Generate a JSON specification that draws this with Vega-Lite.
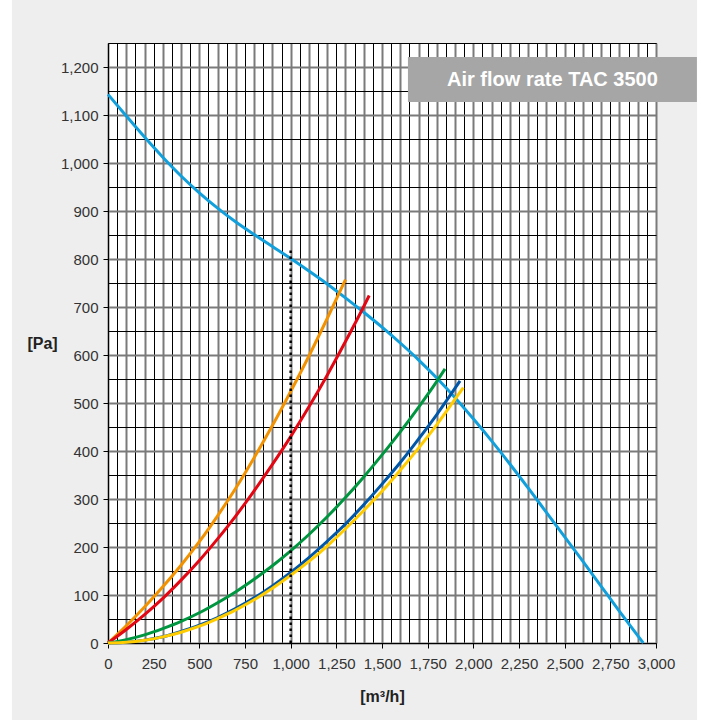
{
  "$schema": "https://vega.github.io/schema/vega-lite/v6.json",
  "width": 548,
  "height": 600,
  "autosize": {"type": "none"},
  "padding": {"left": 108, "top": 43, "right": 45, "bottom": 77},
  "background": "#eeeeee",
  "view": {"stroke": "#000000", "strokeWidth": 1, "fill": "#ffffff"},
  "config": {
    "font": "Liberation Sans, Arial, sans-serif",
    "axisX": {
      "tickCount": 60,
      "grid": true,
      "gridColor": {"condition": {"test": "datum.value % 100 === 0", "value": "#7a7a7a"}, "value": "#000000"},
      "gridWidth": {"condition": {"test": "datum.value % 100 === 0", "value": 2}, "value": 1},
      "gridOpacity": 1,
      "labelExpr": "datum.value % 250 === 0 ? format(datum.value, ',') : ''",
      "labelFont": "Liberation Sans, Arial, sans-serif",
      "labelFontSize": 15,
      "labelColor": "#333333",
      "labelPadding": 8,
      "labelOverlap": false,
      "labelFlush": false,
      "tickSize": 5,
      "tickColor": {"condition": {"test": "datum.value % 250 === 0", "value": "#000000"}, "value": "transparent"},
      "domainColor": "#000000",
      "titleFont": "Liberation Sans, Arial, sans-serif",
      "titleFontSize": 16,
      "titleFontWeight": "bold",
      "titleColor": "#222222",
      "titleX": 274,
      "titleY": 53,
      "titleBaseline": "middle",
      "titleAlign": "center"
    },
    "axisY": {
      "tickCount": 25,
      "grid": true,
      "gridColor": {"condition": {"test": "datum.value % 100 === 0", "value": "#7a7a7a"}, "value": "#000000"},
      "gridWidth": {"condition": {"test": "datum.value % 100 === 0", "value": 2}, "value": 1},
      "gridOpacity": 1,
      "labelExpr": "datum.value % 100 === 0 ? format(datum.value, ',') : ''",
      "labelFont": "Liberation Sans, Arial, sans-serif",
      "labelFontSize": 15,
      "labelColor": "#333333",
      "labelPadding": 5,
      "labelOverlap": false,
      "labelFlush": false,
      "tickSize": 5,
      "tickColor": {"condition": {"test": "datum.value % 100 === 0", "value": "#000000"}, "value": "transparent"},
      "domainColor": "#000000",
      "titleFont": "Liberation Sans, Arial, sans-serif",
      "titleFontSize": 16,
      "titleFontWeight": "bold",
      "titleColor": "#222222",
      "titleAngle": 0,
      "titleX": -66,
      "titleY": 300,
      "titleBaseline": "middle",
      "titleAlign": "center"
    }
  },
  "datasets": {
    "fan": [
      {"x": 0, "y": 1143}, {"x": 100, "y": 1098}, {"x": 200, "y": 1054}, {"x": 300, "y": 1012},
      {"x": 400, "y": 973}, {"x": 500, "y": 938}, {"x": 600, "y": 906}, {"x": 700, "y": 877},
      {"x": 800, "y": 851}, {"x": 900, "y": 826}, {"x": 1000, "y": 801}, {"x": 1100, "y": 775},
      {"x": 1200, "y": 748}, {"x": 1300, "y": 719}, {"x": 1400, "y": 689}, {"x": 1500, "y": 658},
      {"x": 1600, "y": 625}, {"x": 1700, "y": 590}, {"x": 1800, "y": 552}, {"x": 1900, "y": 511},
      {"x": 2000, "y": 467}, {"x": 2100, "y": 421}, {"x": 2200, "y": 373}, {"x": 2300, "y": 323},
      {"x": 2400, "y": 272}, {"x": 2500, "y": 221}, {"x": 2600, "y": 170}, {"x": 2700, "y": 118},
      {"x": 2800, "y": 66}, {"x": 2930, "y": 0}
    ],
    "curves": [
      {"s": "orange", "x": 0, "y": 0}, {"s": "orange", "x": 100, "y": 36}, {"s": "orange", "x": 200, "y": 75},
      {"s": "orange", "x": 300, "y": 117}, {"s": "orange", "x": 400, "y": 162}, {"s": "orange", "x": 500, "y": 211},
      {"s": "orange", "x": 600, "y": 265}, {"s": "orange", "x": 700, "y": 323}, {"s": "orange", "x": 800, "y": 386},
      {"s": "orange", "x": 900, "y": 453}, {"s": "orange", "x": 1000, "y": 524}, {"s": "orange", "x": 1100, "y": 598},
      {"s": "orange", "x": 1200, "y": 676}, {"s": "orange", "x": 1300, "y": 757},
      {"s": "red", "x": 0, "y": 0}, {"s": "red", "x": 100, "y": 28}, {"s": "red", "x": 200, "y": 59},
      {"s": "red", "x": 300, "y": 93}, {"s": "red", "x": 400, "y": 131}, {"s": "red", "x": 500, "y": 172},
      {"s": "red", "x": 600, "y": 217}, {"s": "red", "x": 700, "y": 265}, {"s": "red", "x": 800, "y": 317},
      {"s": "red", "x": 900, "y": 372}, {"s": "red", "x": 1000, "y": 430}, {"s": "red", "x": 1100, "y": 492},
      {"s": "red", "x": 1200, "y": 558}, {"s": "red", "x": 1300, "y": 628}, {"s": "red", "x": 1400, "y": 701},
      {"s": "red", "x": 1430, "y": 724},
      {"s": "green", "x": 0, "y": 0}, {"s": "green", "x": 100, "y": 7}, {"s": "green", "x": 200, "y": 17},
      {"s": "green", "x": 300, "y": 30}, {"s": "green", "x": 400, "y": 45}, {"s": "green", "x": 500, "y": 63},
      {"s": "green", "x": 600, "y": 84}, {"s": "green", "x": 700, "y": 107}, {"s": "green", "x": 800, "y": 133},
      {"s": "green", "x": 900, "y": 161}, {"s": "green", "x": 1000, "y": 192}, {"s": "green", "x": 1100, "y": 226},
      {"s": "green", "x": 1200, "y": 263}, {"s": "green", "x": 1300, "y": 303}, {"s": "green", "x": 1400, "y": 346},
      {"s": "green", "x": 1500, "y": 392}, {"s": "green", "x": 1600, "y": 440}, {"s": "green", "x": 1700, "y": 491},
      {"s": "green", "x": 1800, "y": 545}, {"s": "green", "x": 1845, "y": 571},
      {"s": "blue", "x": 0, "y": 0}, {"s": "blue", "x": 100, "y": 1.5}, {"s": "blue", "x": 200, "y": 6},
      {"s": "blue", "x": 300, "y": 13}, {"s": "blue", "x": 400, "y": 24}, {"s": "blue", "x": 500, "y": 37},
      {"s": "blue", "x": 600, "y": 53}, {"s": "blue", "x": 700, "y": 72}, {"s": "blue", "x": 800, "y": 94},
      {"s": "blue", "x": 900, "y": 119}, {"s": "blue", "x": 1000, "y": 147}, {"s": "blue", "x": 1100, "y": 178},
      {"s": "blue", "x": 1200, "y": 212}, {"s": "blue", "x": 1300, "y": 248}, {"s": "blue", "x": 1400, "y": 288},
      {"s": "blue", "x": 1500, "y": 331}, {"s": "blue", "x": 1600, "y": 376}, {"s": "blue", "x": 1700, "y": 425},
      {"s": "blue", "x": 1800, "y": 476}, {"s": "blue", "x": 1927, "y": 546},
      {"s": "yellow", "x": 0, "y": 0}, {"s": "yellow", "x": 100, "y": 1.4}, {"s": "yellow", "x": 200, "y": 5.6},
      {"s": "yellow", "x": 300, "y": 12.7}, {"s": "yellow", "x": 400, "y": 22.5}, {"s": "yellow", "x": 500, "y": 35},
      {"s": "yellow", "x": 600, "y": 51}, {"s": "yellow", "x": 700, "y": 69}, {"s": "yellow", "x": 800, "y": 90},
      {"s": "yellow", "x": 900, "y": 114}, {"s": "yellow", "x": 1000, "y": 141}, {"s": "yellow", "x": 1100, "y": 170},
      {"s": "yellow", "x": 1200, "y": 202}, {"s": "yellow", "x": 1300, "y": 238}, {"s": "yellow", "x": 1400, "y": 276},
      {"s": "yellow", "x": 1500, "y": 316}, {"s": "yellow", "x": 1600, "y": 360}, {"s": "yellow", "x": 1700, "y": 406},
      {"s": "yellow", "x": 1800, "y": 455}, {"s": "yellow", "x": 1900, "y": 508}, {"s": "yellow", "x": 1945, "y": 532}
    ]
  },
  "layer": [
    {
      "data": {"name": "fan"},
      "mark": {"type": "line", "color": "#12a0dc", "strokeWidth": 3, "interpolate": "monotone"},
      "encoding": {
        "x": {
          "field": "x", "type": "quantitative",
          "scale": {"domain": [0, 3000], "nice": false, "zero": false},
          "axis": {"title": "[m³/h]", "tickCount": 60}
        },
        "y": {
          "field": "y", "type": "quantitative",
          "scale": {"domain": [0, 1250], "nice": false, "zero": false},
          "axis": {"title": "[Pa]", "tickCount": 25}
        }
      }
    },
    {
      "data": {"name": "curves"},
      "mark": {"type": "line", "strokeWidth": 3, "interpolate": "monotone"},
      "encoding": {
        "x": {"field": "x", "type": "quantitative"},
        "y": {"field": "y", "type": "quantitative"},
        "color": {
          "field": "s", "type": "nominal",
          "scale": {"domain": ["orange", "red", "green", "blue", "yellow"], "range": ["#f39200", "#e30613", "#009640", "#0057a8", "#ffcc00"]},
          "legend": null
        }
      }
    },
    {
      "data": {"values": [{}]},
      "mark": {"type": "rule", "color": "#000000", "strokeWidth": 2.5, "strokeDash": [2.5, 3.5]},
      "encoding": {
        "x": {"datum": 1000, "type": "quantitative"},
        "y": {"datum": 0, "type": "quantitative"},
        "y2": {"datum": 820}
      }
    },
    {
      "data": {"values": [{}]},
      "mark": {"type": "rect", "color": "#ffffff", "clip": false},
      "encoding": {
        "x": {"datum": -650, "type": "quantitative"},
        "x2": {"datum": -526},
        "y": {"datum": -200, "type": "quantitative"},
        "y2": {"datum": 1400}
      }
    },
    {
      "data": {"values": [{}]},
      "mark": {"type": "rect", "color": "#ffffff", "clip": false},
      "encoding": {
        "x": {"datum": 3225, "type": "quantitative"},
        "x2": {"datum": 3350},
        "y": {"datum": -200, "type": "quantitative"},
        "y2": {"datum": 1400}
      }
    },
    {
      "data": {"values": [{}]},
      "mark": {"type": "rect", "color": "#a6a6a6", "clip": false},
      "encoding": {
        "x": {"datum": 1642, "type": "quantitative"},
        "x2": {"datum": 3224},
        "y": {"datum": 1127, "type": "quantitative"},
        "y2": {"datum": 1221}
      }
    },
    {
      "data": {"values": [{}]},
      "mark": {"type": "text", "color": "#ffffff", "font": "Liberation Sans", "fontWeight": "bold", "fontSize": 20, "align": "center", "baseline": "middle", "clip": false},
      "encoding": {
        "x": {"datum": 2433, "type": "quantitative"},
        "y": {"datum": 1173, "type": "quantitative"},
        "text": {"value": "Air flow rate TAC 3500"}
      }
    }
  ]
}
